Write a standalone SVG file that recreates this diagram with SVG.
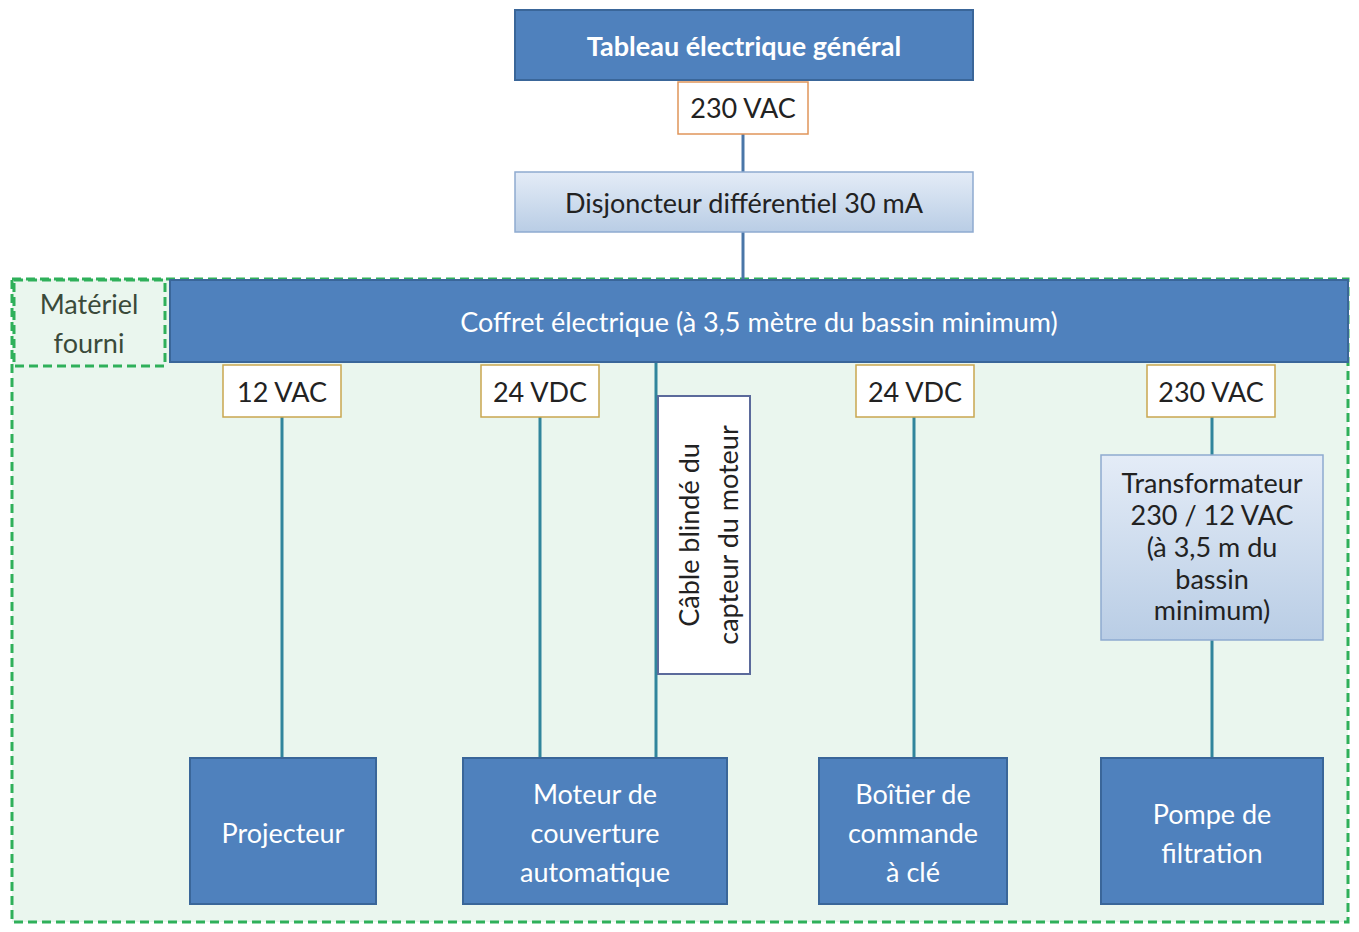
<svg xmlns="http://www.w3.org/2000/svg" width="1359" height="932" viewBox="0 0 1359 932">
<defs>
<linearGradient id="lb" x1="0" y1="0" x2="0" y2="1"><stop offset="0" stop-color="#e4ecf7"/><stop offset="1" stop-color="#b9cde5"/></linearGradient>
<style>
text{font-family:Lato,"Open Sans",sans-serif;text-anchor:middle;dominant-baseline:central}
.dk{fill:#4f81bd;stroke:#3a6699;stroke-width:2}
.lt{fill:url(#lb);stroke:#8eaad0;stroke-width:1.5}
.lab{fill:#fff;stroke:#c9a64f;stroke-width:1.5}
.w{fill:#fff;font-size:27px}
.b{fill:#222;font-size:27px}
.c{stroke:#31859c;stroke-width:3;fill:none}
.g{fill:none;stroke:#2fb05a;stroke-width:3;stroke-dasharray:9 5}
</style>
</defs>
<rect width="1359" height="932" fill="#fff"/>
<g id="container"><rect x="12" y="279" width="1336" height="643" fill="#eaf6ee" class="g" style="fill:#eaf6ee"/></g>
<g id="connectors">
<line class="c" x1="743" y1="134" x2="743" y2="172" style="stroke:#4a76a8"/>
<line class="c" x1="743" y1="232" x2="743" y2="280" style="stroke:#4a76a8"/>
<line class="c" x1="282" y1="417" x2="282" y2="758"/>
<line class="c" x1="540" y1="417" x2="540" y2="758"/>
<line class="c" x1="656" y1="362" x2="656" y2="758"/>
<line class="c" x1="914" y1="417" x2="914" y2="758"/>
<line class="c" x1="1212" y1="417" x2="1212" y2="455"/>
<line class="c" x1="1212" y1="640" x2="1212" y2="758"/>
</g>
<g id="tableau"><rect class="dk" x="515" y="10" width="458" height="70"/><text class="w" x="744" y="45" font-weight="bold" font-size="26">Tableau électrique général</text></g>
<g id="l230a"><rect class="lab" x="678" y="82" width="130" height="52" style="stroke:#e0955a"/><text class="b" x="743" y="107">230 VAC</text></g>
<g id="disj"><rect class="lt" x="515" y="172" width="458" height="60"/><text class="b" x="744" y="202">Disjoncteur différentiel 30 mA</text></g>
<g id="materiel"><rect class="g" x="14" y="280" width="151" height="86"/><text x="89" y="303" font-size="27" fill="#3a4a3a">Matériel</text><text x="89" y="342" font-size="27" fill="#3a4a3a">fourni</text></g>
<g id="coffret"><rect class="dk" x="170" y="280" width="1178" height="82"/><text class="w" x="759" y="321">Coffret électrique (à 3,5  mètre du bassin minimum)</text></g>
<g id="l12"><rect class="lab" x="223" y="365" width="118" height="52"/><text class="b" x="282" y="391">12 VAC</text></g>
<g id="l24a"><rect class="lab" x="481" y="365" width="118" height="52"/><text class="b" x="540" y="391">24 VDC</text></g>
<g id="l24b"><rect class="lab" x="856" y="365" width="118" height="52"/><text class="b" x="915" y="391">24 VDC</text></g>
<g id="l230b"><rect class="lab" x="1147" y="365" width="128" height="52"/><text class="b" x="1211" y="391">230 VAC</text></g>
<g id="cable"><rect x="658" y="396" width="92" height="278" fill="#fff" stroke="#5b6a9b" stroke-width="2"/>
<text class="b" transform="translate(688,535) rotate(-90)">Câble blindé du</text>
<text class="b" transform="translate(727,535) rotate(-90)">capteur du moteur</text></g>
<g id="transfo"><rect class="lt" x="1101" y="455" width="222" height="185"/>
<text class="b" x="1212" y="482">Transformateur</text><text class="b" x="1212" y="514">230 / 12 VAC</text><text class="b" x="1212" y="546">(à 3,5 m du</text><text class="b" x="1212" y="578">bassin</text><text class="b" x="1212" y="609">minimum)</text></g>
<g id="projecteur"><rect class="dk" x="190" y="758" width="186" height="146"/><text class="w" x="283" y="832">Projecteur</text></g>
<g id="moteur"><rect class="dk" x="463" y="758" width="264" height="146"/><text class="w" x="595" y="793">Moteur de</text><text class="w" x="595" y="832">couverture</text><text class="w" x="595" y="871">automatique</text></g>
<g id="boitier"><rect class="dk" x="819" y="758" width="188" height="146"/><text class="w" x="913" y="793">Boîtier de</text><text class="w" x="913" y="832">commande</text><text class="w" x="913" y="871">à clé</text></g>
<g id="pompe"><rect class="dk" x="1101" y="758" width="222" height="146"/><text class="w" x="1212" y="813">Pompe de</text><text class="w" x="1212" y="852">filtration</text></g>
</svg>
